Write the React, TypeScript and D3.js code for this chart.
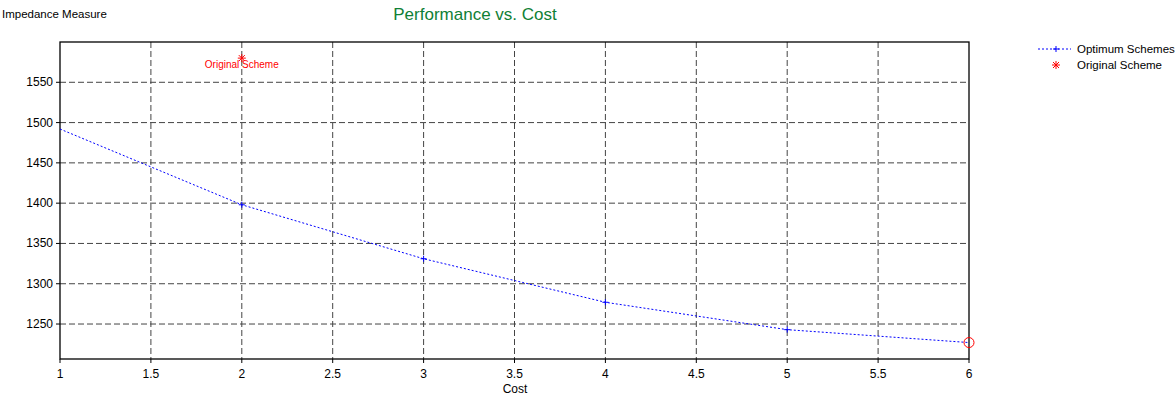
import React from "react";
import * as d3 from "d3";

const costs = [1, 2, 3, 4, 5, 6];
const impedance = [1492, 1398, 1331, 1277, 1243, 1227];
const originalCost = [2];
const originalImpedance = [1580];
const xTicks = [1, 1.5, 2, 2.5, 3, 3.5, 4, 4.5, 5, 5.5, 6];
const yTicks = [1250, 1300, 1350, 1400, 1450, 1500, 1550];

const W = 1176, H = 397;
const L = 60, R = 969, T = 42, B = 359;

export default function App() {
  const x = d3.scaleLinear().domain([1, 6]).range([L, R]);
  const y = d3.scaleLinear().domain([1206.6, 1600]).range([B, T]);
  const line = d3.line<number>().x((_, i) => x(costs[i])).y((d) => y(d)).curve(d3.curveLinear);
  const font = "'Liberation Sans', Arial, sans-serif";
  const plus = (cx: number, cy: number, s: number, c: string, k?: string) => (
    <g key={k} stroke={c} strokeWidth={1}>
      <line x1={cx - s} x2={cx + s} y1={cy} y2={cy} />
      <line x1={cx} x2={cx} y1={cy - s} y2={cy + s} />
    </g>
  );
  const star = (cx: number, cy: number, s: number, c: string) => (
    <g stroke={c} strokeWidth={1}>
      <line x1={cx - s} x2={cx + s} y1={cy} y2={cy} />
      <line x1={cx} x2={cx} y1={cy - s} y2={cy + s} />
      <line x1={cx - s * 0.75} x2={cx + s * 0.75} y1={cy - s * 0.75} y2={cy + s * 0.75} />
      <line x1={cx - s * 0.75} x2={cx + s * 0.75} y1={cy + s * 0.75} y2={cy - s * 0.75} />
    </g>
  );
  return (
    <svg width={W} height={H} style={{ position: "absolute", left: 0, top: 0 }}>
      <rect width={W} height={H} fill="#fff" />
      <text x={2} y={18} fontFamily={font} fontSize={11.5} fill="#000">Impedance Measure</text>
      <text x={475} y={20} textAnchor="middle" fontFamily={font} fontSize={17} fill="#0f8035">Performance vs. Cost</text>
      {xTicks.slice(1, -1).map((t) => (
        <line key={"gx" + t} x1={x(t)} x2={x(t)} y1={T} y2={B} stroke="#444" strokeDasharray="6,3" />
      ))}
      {yTicks.map((t) => (
        <line key={"gy" + t} x1={L} x2={R} y1={y(t)} y2={y(t)} stroke="#444" strokeDasharray="6,3" />
      ))}
      <rect x={L} y={T} width={R - L} height={B - T} fill="none" stroke="#000" strokeWidth={1.3} />
      {xTicks.map((t) => (
        <g key={"tx" + t}>
          <line x1={x(t)} x2={x(t)} y1={B} y2={B + 4} stroke="#000" />
          <text x={x(t)} y={B + 19} textAnchor="middle" fontFamily={font} fontSize={12} fill="#000">{t}</text>
        </g>
      ))}
      {yTicks.map((t) => (
        <g key={"ty" + t}>
          <line x1={L - 4} x2={L} y1={y(t)} y2={y(t)} stroke="#000" />
          <text x={53} y={y(t) + 4} textAnchor="end" fontFamily={font} fontSize={12} fill="#000">{t}</text>
        </g>
      ))}
      <text x={515} y={393} textAnchor="middle" fontFamily={font} fontSize={12} fill="#000">Cost</text>
      <path d={line(impedance) || ""} fill="none" stroke="#0000ff" strokeWidth={1} strokeDasharray="2,2" />
      {costs.slice(1, -1).map((c, i) => plus(x(c), y(impedance[i + 1]), 3, "#0000ff", "p" + c))}
      <circle cx={x(costs[costs.length - 1])} cy={y(impedance[impedance.length - 1])} r={5} fill="none" stroke="#ff0000" />
      {originalCost.map((c, i) => (
        <g key={"o" + i}>
          {star(x(c), y(originalImpedance[i]), 4, "#ff0000")}
          <text x={x(c)} y={y(originalImpedance[i]) + 10} textAnchor="middle" fontFamily={font} fontSize={10} fill="#ff0000">Original Scheme</text>
        </g>
      ))}
      <line x1={1038} x2={1071} y1={49} y2={49} stroke="#0000ff" strokeDasharray="2,2" />
      {plus(1056, 49, 3, "#0000ff")}
      <text x={1077} y={53} fontFamily={font} fontSize={11.5} fill="#000">Optimum Schemes</text>
      {star(1056, 65, 4, "#ff0000")}
      <text x={1077} y={69} fontFamily={font} fontSize={11.5} fill="#000">Original Scheme</text>
    </svg>
  );
}
